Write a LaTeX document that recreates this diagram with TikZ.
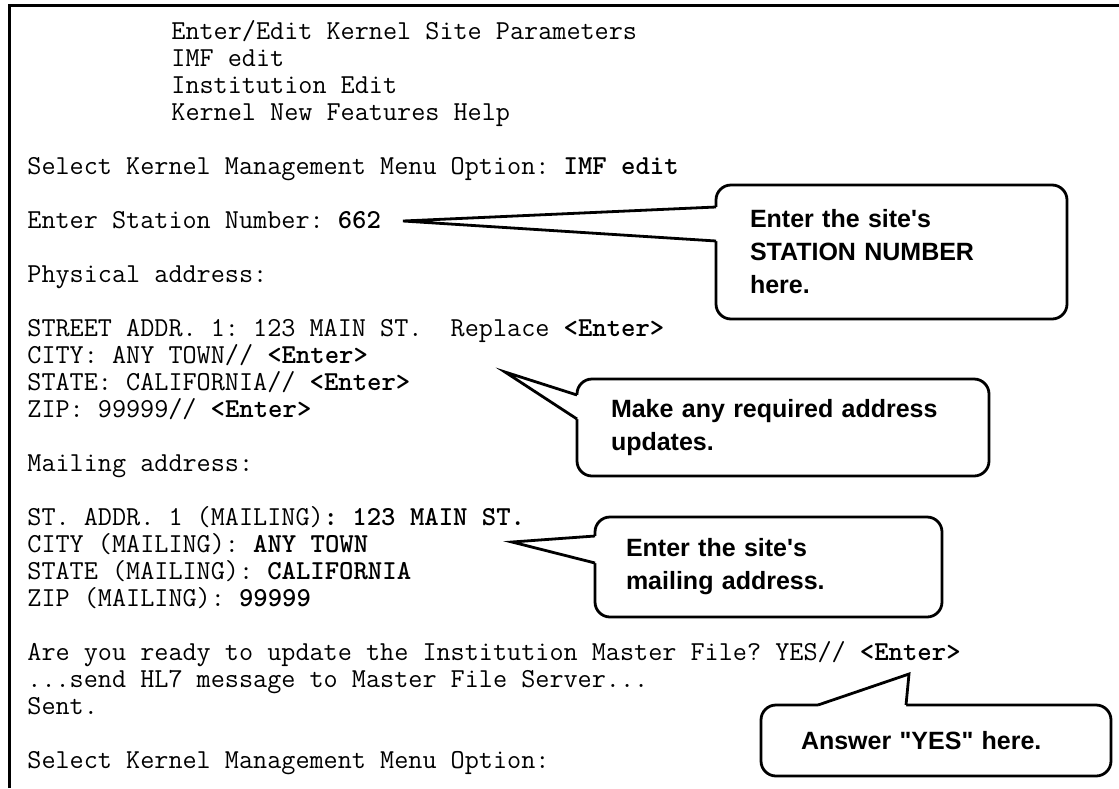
\documentclass[tikz,border=0pt]{standalone}
\usepackage{fontspec}
\usetikzlibrary{calc}
\newfontfamily\notefont{Liberation Sans}

\begin{document}
\begin{tikzpicture}[x=0.5pt, y=-0.5pt,
	line/.style={anchor=base west, inner sep=0pt, font=\ttfamily\fontsize{13.7}{16}\selectfont\frenchspacing},
	bubble/.style={draw, fill=white, line width=1.4pt, outer sep=0pt, rounded corners=7.5pt, align=left, inner ysep=0pt, font=\notefont\bfseries\fontsize{12.5}{16.5}\selectfont},
	tail/.style={line width=1.4pt}]
	\useasboundingbox (0,0) rectangle (1119,788);

	% Frame
	\draw[line width=1.5pt] (9.5,788) -- (9.5,5.5) -- (1119,5.5);

	% Menu
	\node[line] (m1) at (171,39) {Enter/Edit Kernel Site Parameters};
	\node[line] (m2) at (171,66) {IMF edit};
	\node[line] (m3) at (171,93) {Institution Edit};
	\node[line] (m4) at (171,120) {Kernel New Features Help};
	\node[line] (sel1) at (27,174) {Select Kernel Management Menu Option: \textbf{IMF edit}};
	\node[line] (stn) at (27,228) {Enter Station Number: \textbf{662}};

	% Physical address
	\node[line] (phys) at (27,282) {Physical address:};
	\node[line] (p1) at (27,336) {STREET ADDR. 1: 123 MAIN ST.\ \ Replace \textbf{<Enter>}};
	\node[line] (p2) at (27,363) {CITY: ANY TOWN// \textbf{<Enter>}};
	\node[line] (p3) at (27,390) {STATE: CALIFORNIA// \textbf{<Enter>}};
	\node[line] (p4) at (27,417) {ZIP: 99999// \textbf{<Enter>}};

	% Mailing address
	\node[line] (mail) at (27,471) {Mailing address:};
	\node[line] (q1) at (27,525) {ST. ADDR. 1 (MAILING)\textbf{: 123 MAIN ST.}};
	\node[line] (q2) at (27,552) {CITY (MAILING): \textbf{ANY TOWN}};
	\node[line] (q3) at (27,579) {STATE (MAILING): \textbf{CALIFORNIA}};
	\node[line] (q4) at (27,606) {ZIP (MAILING): \textbf{99999}};

	% Update
	\node[line] (upd) at (27,660) {Are you ready to update the Institution Master File? YES// \textbf{<Enter>}};
	\node[line] (hl7) at (27,687) {...send HL7 message to Master File Server...};
	\node[line] (sent) at (27,714) {Sent.};
	\node[line] (sel2) at (27,768) {Select Kernel Management Menu Option:};

	% Callout: station number
	\node[bubble, text width=141.5pt, inner xsep=17pt, minimum height=67pt] (stnbox) at (891.5,252) {Enter the site\textquotesingle s\\STATION NUMBER\\here.};
	\coordinate (stntip) at (403,221);
	\coordinate (stna) at ($(stnbox.north west)+(0,22)$);
	\coordinate (stnb) at ($(stnbox.north west)+(0,56)$);
	\fill[white] (stna) -- (stntip) -- (stnb) -- ($(stnb)+(4,0)$) -- ($(stna)+(4,0)$) -- cycle;
	\draw[tail] (stna) -- (stntip) -- (stnb);

	% Callout: address updates
	\node[bubble, text width=172pt, inner xsep=17pt, minimum height=48.5pt] (adrbox) at (783,427.5) {Make any required address\\updates.};
	\coordinate (adrtip) at (505,372);
	\coordinate (adra) at ($(adrbox.north west)+(0,16)$);
	\coordinate (adrb) at ($(adrbox.north west)+(0,40)$);
	\fill[white] (adra) -- (adrtip) -- (adrb) -- ($(adrb)+(4,0)$) -- ($(adra)+(4,0)$) -- cycle;
	\draw[tail] (adra) -- (adrtip) -- (adrb);

	% Callout: mailing address
	\node[bubble, text width=142.5pt, inner xsep=15.5pt, minimum height=50pt] (mlbox) at (768.5,567) {Enter the site\textquotesingle s\\mailing address.};
	\coordinate (mltip) at (512,542);
	\coordinate (mla) at ($(mlbox.north west)+(0,19)$);
	\coordinate (mlb) at ($(mlbox.north west)+(0,46)$);
	\fill[white] (mla) -- (mltip) -- (mlb) -- ($(mlb)+(4,0)$) -- ($(mla)+(4,0)$) -- cycle;
	\draw[tail] (mla) -- (mltip) -- (mlb);

	% Callout: YES
	\node[bubble, text width=135pt, inner xsep=20pt, minimum height=35.5pt] (yesbox) at (936,740.5) {Answer \textquotedbl YES\textquotedbl{} here.};
	\coordinate (yestip) at (909,674);
	\coordinate (yesa) at ($(yesbox.north west)+(57,0)$);
	\coordinate (yesb) at ($(yesbox.north west)+(145,0)$);
	\fill[white] (yesa) -- (yestip) -- (yesb) -- ($(yesb)+(0,4)$) -- ($(yesa)+(0,4)$) -- cycle;
	\draw[tail] (yesa) -- (yestip) -- (yesb);
\end{tikzpicture}
\end{document}
